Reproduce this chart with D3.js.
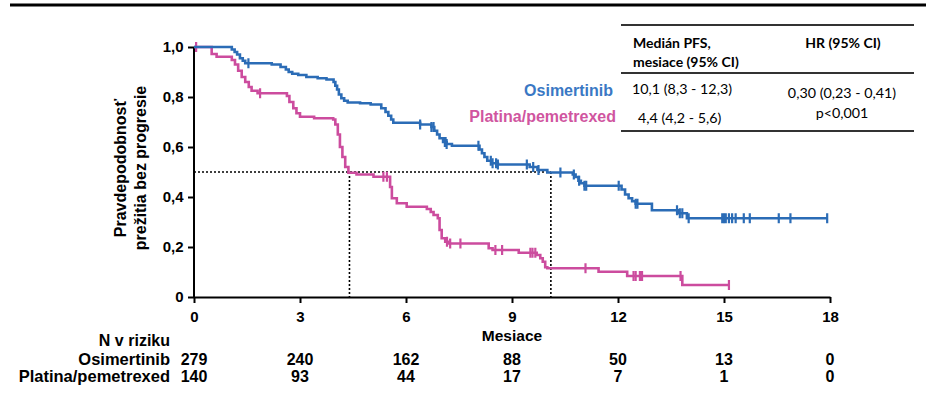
<!DOCTYPE html>
<html>
<head>
<meta charset="utf-8">
<script src="https://cdn.jsdelivr.net/npm/d3@7"></script>
<style>
  body { margin: 0; background: #fff; }
  svg text { font-family: "Liberation Sans", Arial, sans-serif; font-weight: bold; }
  .tbl { font-family: Lato, "Open Sans", sans-serif; font-weight: normal; }
</style>
</head>
<body>
<svg id="chart" width="934" height="398"></svg>
<script>
var width = 934, height = 398;

// step data: [month, survival after the drop]
var osiSteps = [[0,1.0],[1.07,0.99],[1.15,0.98],[1.22,0.97],[1.3,0.955],[1.38,0.945],[1.45,0.935],
  [2.2,0.93],[2.45,0.92],[2.6,0.91],[2.68,0.90],[2.78,0.893],[2.95,0.888],[3.18,0.88],[3.5,0.875],[3.75,0.87],
  [3.95,0.86],[4.0,0.845],[4.05,0.83],[4.1,0.81],[4.17,0.795],[4.25,0.785],[4.35,0.778],[4.7,0.775],[5.0,0.77],
  [5.3,0.755],[5.42,0.74],[5.5,0.725],[5.58,0.71],[5.64,0.697],
  [6.4,0.69],[6.72,0.68],[6.8,0.665],[6.88,0.65],[6.95,0.635],[7.05,0.62],[7.15,0.612],[7.3,0.605],
  [8.08,0.59],[8.15,0.575],[8.22,0.56],[8.3,0.545],[8.42,0.535],[8.6,0.53],
  [9.5,0.52],[9.72,0.508],[10.0,0.498],
  [10.72,0.49],[10.8,0.48],[10.88,0.465],[10.95,0.455],[11.05,0.445],
  [12.1,0.43],[12.2,0.41],[12.3,0.395],[12.4,0.383],[12.5,0.373],
  [12.96,0.347],[13.72,0.335],[13.95,0.315]];
var osiEnd = 17.92;
var osiCensor = [1.54,6.4,6.72,6.78,7.1,7.12,7.15,8.05,8.4,8.45,8.55,8.6,9.42,9.6,9.75,10.37,10.75,10.9,
  11.05,11.1,12.02,12.5,12.55,13.67,13.75,13.82,14.0,14.95,15.0,15.05,15.14,15.23,15.33,15.56,15.73,16.55,16.88,17.92];

var chemoSteps = [[0,1.0],[0.5,0.972],[0.64,0.961],[1.07,0.948],[1.16,0.93],[1.25,0.905],[1.35,0.88],[1.45,0.86],
  [1.55,0.84],[1.63,0.825],[1.8,0.815],[2.63,0.804],[2.7,0.78],[2.81,0.755],[2.9,0.735],[3.0,0.721],[3.4,0.715],
  [3.94,0.71],[4.0,0.69],[4.07,0.65],[4.13,0.6],[4.2,0.56],[4.28,0.52],[4.37,0.497],[4.6,0.49],[5.08,0.481],
  [5.55,0.44],[5.6,0.395],[5.74,0.375],[6.02,0.361],[6.59,0.352],[6.7,0.34],[6.78,0.328],[6.9,0.315],[6.95,0.268],
  [7.01,0.235],[7.11,0.221],[7.2,0.214],[8.34,0.195],[8.45,0.188],[9.19,0.177],[9.7,0.168],[9.8,0.155],[9.87,0.141],
  [9.94,0.119],[10.0,0.115],[11.45,0.101],[12.26,0.084],[13.82,0.048]];
var chemoEnd = 15.14;
var chemoCensor = [0.06,1.87,5.36,5.46,7.16,7.25,7.54,8.53,8.72,9.52,9.58,9.66,11.08,12.44,12.5,12.62,12.68,13.77,15.14];

var medians = [10.1, 4.4];
var xTicks = [0,3,6,9,12,15,18];
var yTicks = [0,0.2,0.4,0.6,0.8,1.0];
var groups = ["Osimertinib", "Platina/pemetrexed"];
var atRisk = [[279,240,162,88,50,13,0],[140,93,44,17,7,1,0]];
var medianText = ["10,1 (8,3 - 12,3)", "4,4 (4,2 - 5,6)"];
var hrText = ["0,30 (0,23 - 0,41)", "p<0,001"];

var blue = "#2b6cb6", pink = "#cc4c9e";

var svg = d3.select("#chart");
var x = d3.scaleLinear().domain([0, 18]).range([194, 830]);
var y = d3.scaleLinear().domain([0, 1]).range([297, 47]);
var fmt = function(d) { return d === 0 ? "0" : d3.format(".1f")(d).replace(".", ","); };

// top rule
svg.append("line").attr("x1", 10).attr("x2", 926).attr("y1", 5).attr("y2", 5)
  .attr("stroke", "#000").attr("stroke-width", 3);

// median guides
svg.append("line").attr("x1", x(0)).attr("x2", x(medians[0])).attr("y1", y(0.5)).attr("y2", y(0.5))
  .attr("stroke", "#000").attr("stroke-width", 1.6).attr("stroke-dasharray", "2,2");
medians.forEach(function(m) {
  svg.append("line").attr("x1", x(m)).attr("x2", x(m)).attr("y1", y(0.5)).attr("y2", y(0))
    .attr("stroke", "#000").attr("stroke-width", 1.6).attr("stroke-dasharray", "2,2");
});

// axes
var gx = svg.append("g").attr("transform", "translate(0," + y(0) + ")")
  .call(d3.axisBottom(x).tickValues(xTicks).tickSize(6).tickSizeOuter(0).tickFormat(d3.format("d")));
var gy = svg.append("g").attr("transform", "translate(" + x(0) + ",0)")
  .call(d3.axisLeft(y).tickValues(yTicks).tickSize(6).tickSizeOuter(0).tickFormat(fmt));
[gx, gy].forEach(function(g) {
  g.select(".domain").attr("stroke", "#000").attr("stroke-width", 2);
  g.selectAll(".tick line").attr("stroke", "#000").attr("stroke-width", 2);
  g.selectAll(".tick text").attr("font-size", 15).attr("font-weight", "bold").attr("fill", "#000");
});
gx.selectAll(".tick text").attr("dy", "1.05em");
gy.selectAll(".tick text").attr("dx", "-0.1em");
gy.select(".domain").attr("d", "M0," + (y(0)+1) + "V" + (y(1)));

// y title
var yt = svg.append("text").attr("transform", "translate(126,168) rotate(-90)")
  .attr("text-anchor", "middle").attr("font-size", 16);
yt.append("tspan").attr("x", 0).attr("y", 0).text("Pravdepodobnosť");
yt.append("tspan").attr("x", 0).attr("y", 20).text("prežitia bez progresie");

svg.append("text").attr("x", x(9)).attr("y", 341).attr("text-anchor", "middle")
  .attr("font-size", 15.5).text("Mesiace");

// curves
function survAt(steps, t) {
  var s = steps[0][1];
  steps.forEach(function(p) { if (p[0] <= t) s = p[1]; });
  return s;
}
var line = d3.line().x(function(d) { return x(d[0]); }).y(function(d) { return y(d[1]); })
  .curve(d3.curveStepAfter);

function drawCurve(steps, end, censor, color) {
  var pts = steps.concat([[end, steps[steps.length - 1][1]]]);
  svg.append("path").datum(pts).attr("d", line).attr("fill", "none")
    .attr("stroke", color).attr("stroke-width", 2.6);
  svg.append("g").selectAll("line").data(censor).join("line")
    .attr("x1", function(d) { return x(d); }).attr("x2", function(d) { return x(d); })
    .attr("y1", function(d) { return y(survAt(steps, d)) - 5; })
    .attr("y2", function(d) { return y(survAt(steps, d)) + 5; })
    .attr("stroke", color).attr("stroke-width", 2.2);
}
drawCurve(chemoSteps, chemoEnd, chemoCensor, pink);
drawCurve(osiSteps, osiEnd, osiCensor, blue);

// legend labels
svg.append("text").attr("x", 613).attr("y", 96).attr("text-anchor", "end")
  .attr("font-size", 16).attr("fill", "#3a78c4").text(groups[0]);
svg.append("text").attr("x", 616).attr("y", 122).attr("text-anchor", "end")
  .attr("font-size", 16).attr("fill", "#d0559f").text(groups[1]);

// table
[25, 73, 131].forEach(function(ly) {
  svg.append("line").attr("x1", 621).attr("x2", 914).attr("y1", ly).attr("y2", ly)
    .attr("stroke", "#333").attr("stroke-width", 1.8);
});
svg.append("text").attr("class", "tbl").attr("x", 633).attr("y", 48).attr("font-size", 14)
  .style("font-weight", "bold").text("Medián PFS,");
svg.append("text").attr("class", "tbl").attr("x", 633).attr("y", 67).attr("font-size", 14)
  .style("font-weight", "bold").text("mesiace (95% CI)");
svg.append("text").attr("class", "tbl").attr("x", 843).attr("y", 48).attr("font-size", 14)
  .attr("text-anchor", "middle").style("font-weight", "bold").text("HR (95% CI)");
svg.append("text").attr("class", "tbl").attr("x", 632).attr("y", 94).attr("font-size", 14.3)
  .text(medianText[0]);
svg.append("text").attr("class", "tbl").attr("x", 638).attr("y", 123).attr("font-size", 14.3)
  .text(medianText[1]);
svg.append("text").attr("class", "tbl").attr("x", 842).attr("y", 98).attr("font-size", 14.3)
  .attr("text-anchor", "middle").text(hrText[0]);
svg.append("text").attr("class", "tbl").attr("x", 842).attr("y", 118).attr("font-size", 14.3)
  .attr("text-anchor", "middle").text(hrText[1]);

// number at risk
svg.append("text").attr("x", 170).attr("y", 346).attr("text-anchor", "end")
  .attr("font-size", 16).text("N v riziku");
groups.forEach(function(gname, i) {
  var ry = 365 + i * 17;
  svg.append("text").attr("x", 170).attr("y", ry).attr("text-anchor", "end")
    .attr("font-size", 16.5).text(gname);
  svg.append("g").selectAll("text").data(atRisk[i]).join("text")
    .attr("x", function(d, j) { return x(xTicks[j]); }).attr("y", ry)
    .attr("text-anchor", "middle").attr("font-size", 16).text(function(d) { return d; });
});
</script>
</body>
</html>
